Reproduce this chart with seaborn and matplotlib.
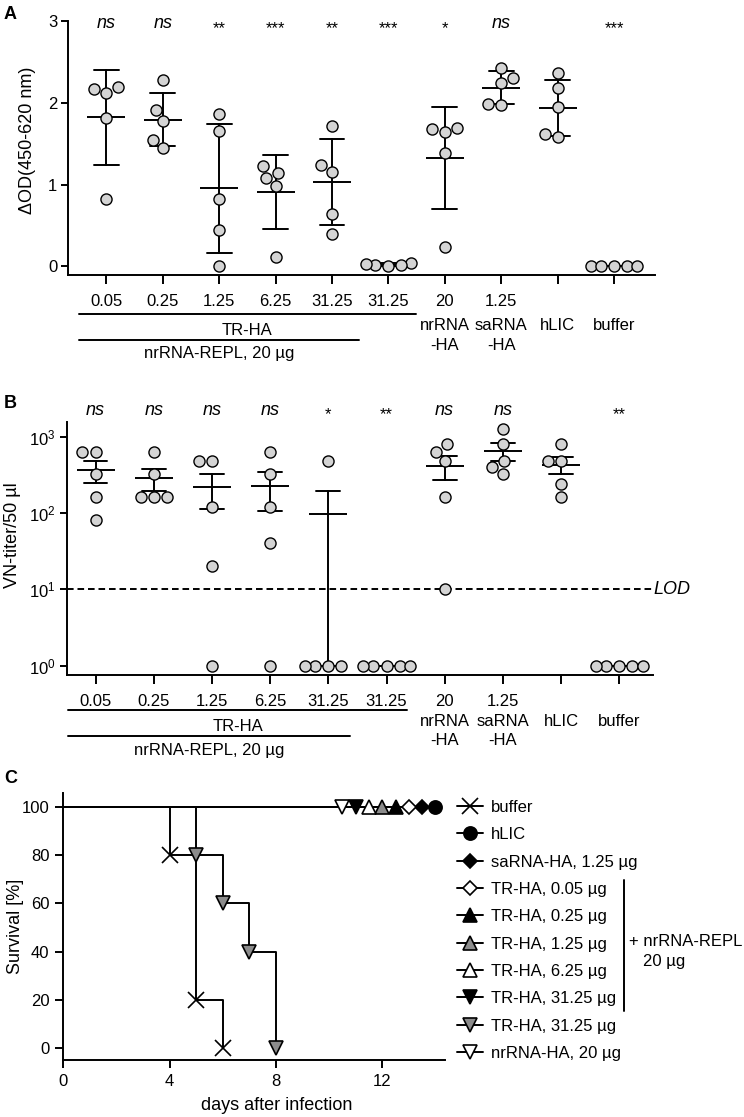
import numpy as np
import pandas as pd
import seaborn as sns
import matplotlib.pyplot as plt
from matplotlib.lines import Line2D
from matplotlib import ticker, transforms

# ---- data: panels A and B ----
groups = ['TR-HA 0.05', 'TR-HA 0.25', 'TR-HA 1.25', 'TR-HA 6.25', 'TR-HA 31.25',
          'TR-HA 31.25 only', 'nrRNA-HA', 'saRNA-HA', 'hLIC', 'buffer']
dose_labels = ['0.05', '0.25', '1.25', '6.25', '31.25', '31.25', '20', '1.25', '', '']
name_top = ['', '', '', '', '', '', 'nrRNA', 'saRNA', 'hLIC', 'buffer']
name_bottom = ['', '', '', '', '', '', '-HA', '-HA', '', '']

od_values = [
    [2.19, 2.12, 2.17, 1.82, 0.82],
    [2.28, 1.91, 1.78, 1.55, 1.45],
    [1.86, 1.65, 0.83, 0.45, 0.00],
    [1.23, 1.08, 1.14, 0.98, 0.12],
    [1.72, 1.24, 1.16, 0.64, 0.40],
    [0.04, 0.02, 0.00, 0.02, 0.03],
    [1.69, 1.64, 1.68, 1.39, 0.24],
    [2.43, 2.30, 2.24, 1.97, 1.98],
    [2.36, 2.18, 1.95, 1.62, 1.58],
    [0.01, 0.00, 0.01, 0.00, 0.01],
]
od_sig = ['ns', 'ns', '**', '***', '**', '***', '*', 'ns', '', '***']

vn_values = [
    [640, 640, 320, 160, 80],
    [640, 320, 160, 160, 160],
    [480, 480, 120, 20, 1],
    [640, 320, 120, 40, 1],
    [480, 1, 1, 1, 1],
    [1, 1, 1, 1, 1],
    [800, 640, 480, 160, 10],
    [1280, 800, 480, 400, 320],
    [800, 480, 480, 240, 160],
    [1, 1, 1, 1, 1],
]
vn_sig = ['ns', 'ns', 'ns', 'ns', '*', '**', 'ns', 'ns', '', '**']
lod = 10

# ---- data: panel C ----
surv_labels = ['buffer', 'hLIC', 'saRNA-HA, 1.25 µg', 'TR-HA, 0.05 µg', 'TR-HA, 0.25 µg',
               'TR-HA, 1.25 µg', 'TR-HA, 6.25 µg', 'TR-HA, 31.25 µg', 'TR-HA, 31.25 µg',
               'nrRNA-HA, 20 µg']
surv_days = [[0, 4, 5, 6], [0, 14], [0, 14], [0, 14], [0, 14],
             [0, 14], [0, 14], [0, 14], [0, 5, 6, 7, 8], [0, 14]]
surv_pct = [[100, 80, 20, 0], [100, 100], [100, 100], [100, 100], [100, 100],
            [100, 100], [100, 100], [100, 100], [100, 80, 60, 40, 0], [100, 100]]
mark_days = [[4, 5, 6], [14], [13.5], [13], [12.5], [12], [11.5], [11], [5, 6, 7, 8], [10.5]]
mark_pct = [[80, 20, 0], [100], [100], [100], [100], [100], [100], [100], [80, 60, 40, 0], [100]]
surv_markers = ['x', 'o', 'D', 'D', '^', '^', '^', 'v', 'v', 'v']
surv_fill = ['black', 'black', 'black', 'white', 'black', '#8c8c8c', 'white', 'black', '#8c8c8c', 'white']
surv_ms = [11, 9.5, 7, 7, 9.5, 9.5, 9.5, 9.5, 9.5, 9.5]

sns.set_style('ticks')
plt.rcParams['font.family'] = ['Liberation Sans', 'DejaVu Sans']
plt.rcParams['axes.linewidth'] = 1.4
plt.rcParams['axes.edgecolor'] = 'black'
plt.rcParams['text.color'] = 'black'
plt.rcParams['axes.labelcolor'] = 'black'
plt.rcParams['xtick.color'] = 'black'
plt.rcParams['ytick.color'] = 'black'
plt.rcParams['xtick.major.width'] = 1.4
plt.rcParams['ytick.major.width'] = 1.4
plt.rcParams['xtick.labelsize'] = 12
plt.rcParams['ytick.labelsize'] = 12

W, H = 744, 1117
fig = plt.figure(figsize=(W / 100, H / 100), dpi=100)


def px_rect(l, t, r, b):
    return [l / W, 1 - b / H, (r - l) / W, (b - t) / H]


lw = 1.4
dot_color = '#d4d4d4'


def group_axis(ax, sig, ns_y, star_y, rows):
    # rows: (line1_y, line2_y, name_top_y, name_bottom_y, trha_y, repl_y, line1_x, line2_x)
    trans = transforms.blended_transform_factory(ax.transData, ax.transAxes)
    ax.set_xticks(range(len(groups)), labels=dose_labels)
    ax.tick_params(axis='x', length=6.5, width=lw, pad=7)
    ax.tick_params(axis='y', length=5, width=lw, pad=3)
    l1, l2, nt, nb, ty, ry, x1, x2 = rows
    ax.plot(x1, [l1, l1], transform=trans, color='black', lw=lw, clip_on=False)
    ax.plot(x2, [l2, l2], transform=trans, color='black', lw=lw, clip_on=False)
    for i, (s1, s2) in enumerate(zip(name_top, name_bottom)):
        if s1:
            ax.text(i, nt, s1, transform=trans, ha='center', va='baseline', fontsize=12)
        if s2:
            ax.text(i, nb, s2, transform=trans, ha='center', va='baseline', fontsize=12)
    ax.text(np.mean(x1), ty, 'TR-HA', transform=trans, ha='center', va='baseline', fontsize=12)
    ax.text(np.mean(x2), ry, 'nrRNA-REPL, 20 µg', transform=trans, ha='center', va='baseline', fontsize=12)
    for i, s in enumerate(sig):
        if s == 'ns':
            ax.text(i, ns_y, s, transform=trans, ha='center', va='baseline', fontsize=13, style='italic')
        elif s:
            ax.text(i, star_y, s, transform=trans, ha='center', va='baseline', fontsize=12)
    sns.despine(ax=ax)


# ---- panel A ----
dfA = pd.DataFrame({'group': np.repeat(groups, 5), 'od': np.concatenate(od_values)})
axA = fig.add_axes(px_rect(68.3, 21, 655, 275.3))
sns.pointplot(data=dfA, x='group', y='od', order=groups, errorbar='sd', color='black',
              markers='_', linestyles='none', capsize=0.44, markersize=27,
              markeredgewidth=lw, linewidth=lw, err_kws={'linewidth': lw}, ax=axA)
sns.swarmplot(data=dfA, x='group', y='od', order=groups, color=dot_color, edgecolor='black',
              linewidth=1, size=8, ax=axA, zorder=3, warn_thresh=1)
axA.set_xlim(-0.677, 9.727)
axA.set_ylim(-0.108, 3.0)
axA.set_yticks([0, 1, 2, 3])
axA.set_xlabel('')
axA.set_ylabel('ΔOD(450-620 nm)', fontsize=13)
axA.yaxis.set_label_coords(-0.069, 0.532)
axA.yaxis.label.set_va('center')
group_axis(axA, od_sig, 0.971, 0.953,
           (-0.153, -0.254, -0.215, -0.295, -0.234, -0.327, [-0.49, 5.48], [-0.49, 4.47]))

# ---- panel B ----
dfB = pd.DataFrame({'group': np.repeat(groups, 5), 'vn': np.concatenate(vn_values)})
axB = fig.add_axes(px_rect(66.7, 421.7, 652.7, 675.3))
# mean +/- SEM on the raw titers (computed before the axis turns logarithmic)
sns.pointplot(data=dfB, x='group', y='vn', order=groups, errorbar='se', color='black',
              markers='_', linestyles='none', capsize=0.41, markersize=28,
              markeredgewidth=lw, linewidth=lw, err_kws={'linewidth': lw}, ax=axB)
axB.set_yscale('log')
axB.set_ylim(10 ** -0.126, 10 ** 3.197)
axB.set_xlim(-0.495, 9.574)
sns.swarmplot(data=dfB, x='group', y='vn', order=groups, color=dot_color, edgecolor='black',
              linewidth=1, size=8, ax=axB, zorder=3, warn_thresh=1)
axB.set_yscale('log')
axB.set_ylim(10 ** -0.126, 10 ** 3.197)
axB.set_xlim(-0.495, 9.574)
axB.set_yticks([1, 10, 100, 1000])
axB.yaxis.set_minor_locator(ticker.NullLocator())
axB.axhline(lod, color='black', lw=lw, ls=(0, (3.4, 2.0)), zorder=1)
axB.text(1.002, lod, 'LOD', transform=transforms.blended_transform_factory(axB.transAxes, axB.transData),
         ha='left', va='center', fontsize=13, style='italic')
axB.set_xlabel('')
axB.set_ylabel('VN-titer/50 µl', fontsize=13)
axB.yaxis.set_label_coords(-0.093, 0.553)
axB.yaxis.label.set_va('center')
group_axis(axB, vn_sig, 1.026, 1.011,
           (-0.137, -0.238, -0.201, -0.276, -0.221, -0.316, [-0.47, 5.35], [-0.47, 4.37]))

# ---- panel C ----
axC = fig.add_axes(px_rect(63.3, 793.3, 445, 1060))
for d, p in zip(surv_days, surv_pct):
    sns.lineplot(x=d, y=p, drawstyle='steps-post', color='black', linewidth=lw,
                 estimator=None, ax=axC)
for d, p, m, fc, ms in zip(mark_days, mark_pct, surv_markers, surv_fill, surv_ms):
    axC.plot(d, p, ls='none', marker=m, ms=ms, mfc=fc, mec='black', mew=1.2,
             color='black', clip_on=False, zorder=3)
axC.set_xlim(0, 14.36)
axC.set_ylim(-4.84, 105.5)
axC.set_xticks([0, 4, 8, 12])
axC.set_yticks([0, 20, 40, 60, 80, 100])
axC.tick_params(axis='both', length=6, width=lw, pad=4)
axC.set_xlabel('days after infection', fontsize=13)
axC.xaxis.set_label_coords(0.56, -0.169)
axC.xaxis.label.set_va('center')
axC.set_ylabel('Survival [%]', fontsize=13)
axC.yaxis.set_label_coords(-0.124, 0.5)
axC.yaxis.label.set_va('center')
sns.despine(ax=axC)

handles = [Line2D([0], [0], color='black', lw=lw, marker=m, ms=ms, mfc=fc, mec='black', mew=1.2)
           for m, fc, ms in zip(surv_markers, surv_fill, surv_ms)]
fig.legend(handles, surv_labels, loc='upper left', bbox_to_anchor=(456.7 / W, 1 - 800 / H),
           frameon=False, fontsize=12, handlelength=1.6, handletextpad=0.45,
           labelspacing=0.74, borderpad=0, borderaxespad=0)
fig.add_artist(Line2D([624.3 / W, 624.3 / W], [1 - 880 / H, 1 - 1010.7 / H], color='black',
                      lw=lw, transform=fig.transFigure))
fig.text(629.3 / W, 1 - 941.7 / H, '+ nrRNA-REPL', va='center', ha='left', fontsize=12)
fig.text(643.3 / W, 1 - 961.7 / H, '20 µg', va='center', ha='left', fontsize=12)

# panel letters
for letter, x, y in [('A', 3.3, 19.3), ('B', 4, 408.3), ('C', 4, 782.7)]:
    fig.text(x / W, 1 - y / H, letter, ha='left', va='baseline', fontsize=13, weight='bold')

fig.savefig('out.png', dpi=100)
